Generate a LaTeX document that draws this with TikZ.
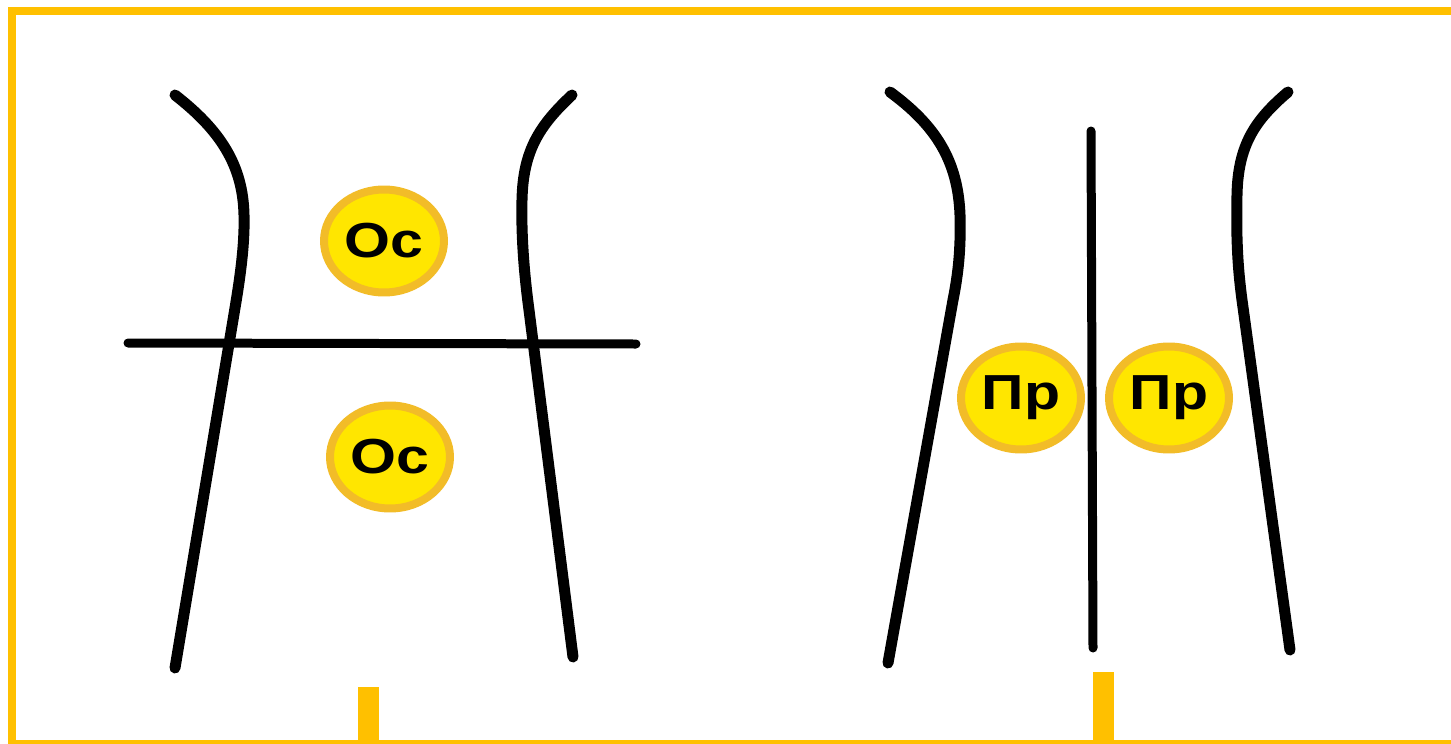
\documentclass[tikz,border=0pt]{standalone}
\usepackage{fontspec}
\setmainfont{Liberation Sans}
\usetikzlibrary{shapes.geometric}
\definecolor{frameY}{RGB}{255,192,0}
\definecolor{discFill}{RGB}{255,230,0}
\definecolor{discRing}{RGB}{242,188,40}
\newcommand{\wideLbl}[1]{\scalebox{1.2}[1]{#1}}
\begin{document}
\begin{tikzpicture}[x=0.02cm,y=-0.02cm,
  body/.style={line width=0.22cm,line cap=round,line join=round,black},
  cut/.style={line width=0.18cm,line cap=round,black},
  disc/.style={ellipse,draw=discRing,fill=discFill,line width=0.16cm,minimum width=2.4cm,minimum height=2.06cm,inner sep=0pt},
  lbl/.style={font=\bfseries\fontsize{28}{28}\selectfont,inner sep=0pt}]
\useasboundingbox (0,0) rectangle (1451,744);
\begin{scope}
\clip (0,0) rectangle (1451,744);
\fill[white] (0,0) rectangle (1451,744);
\draw[frameY,line width=0.17cm] (12,11) rectangle (1460,744);
\fill[frameY] (358,687) rectangle (379,750);
\fill[frameY] (1093,672) rectangle (1114,750);
\end{scope}
% left figure
\draw[body] (175,95) .. controls (220,130) and (243,165) .. (244,215)
  .. controls (245,250) and (238,290) .. (233,320) -- (175,668);
\draw[body] (572,95) .. controls (540,125) and (523,150) .. (522,200)
  .. controls (521,240) and (525,280) .. (529,310) -- (573,657);
\draw[cut] (128,343) -- (636,344);
\node[disc] (d1) at (384,241) {};
\node[lbl] (t1) at (d1.center) {\wideLbl{Ос}};
\node[disc] (d2) at (390,457) {};
\node[lbl] (t2) at (d2.center) {\wideLbl{Ос}};
% right figure
\draw[body] (890,92) .. controls (935,125) and (958,160) .. (960,215)
  .. controls (961,250) and (958,275) .. (953,300) -- (888,663);
\draw[body] (1288,92) .. controls (1255,120) and (1238,145) .. (1237,195)
  .. controls (1236,240) and (1238,270) .. (1242,300) -- (1290,650);
\draw[cut] (1091,131) -- (1093,648);
\node[disc] (d3) at (1021,398) {};
\node[lbl] (t3) at (d3.center) {\wideLbl{Пр}};
\node[disc] (d4) at (1169,398) {};
\node[lbl] (t4) at (d4.center) {\wideLbl{Пр}};
\end{tikzpicture}
\end{document}
